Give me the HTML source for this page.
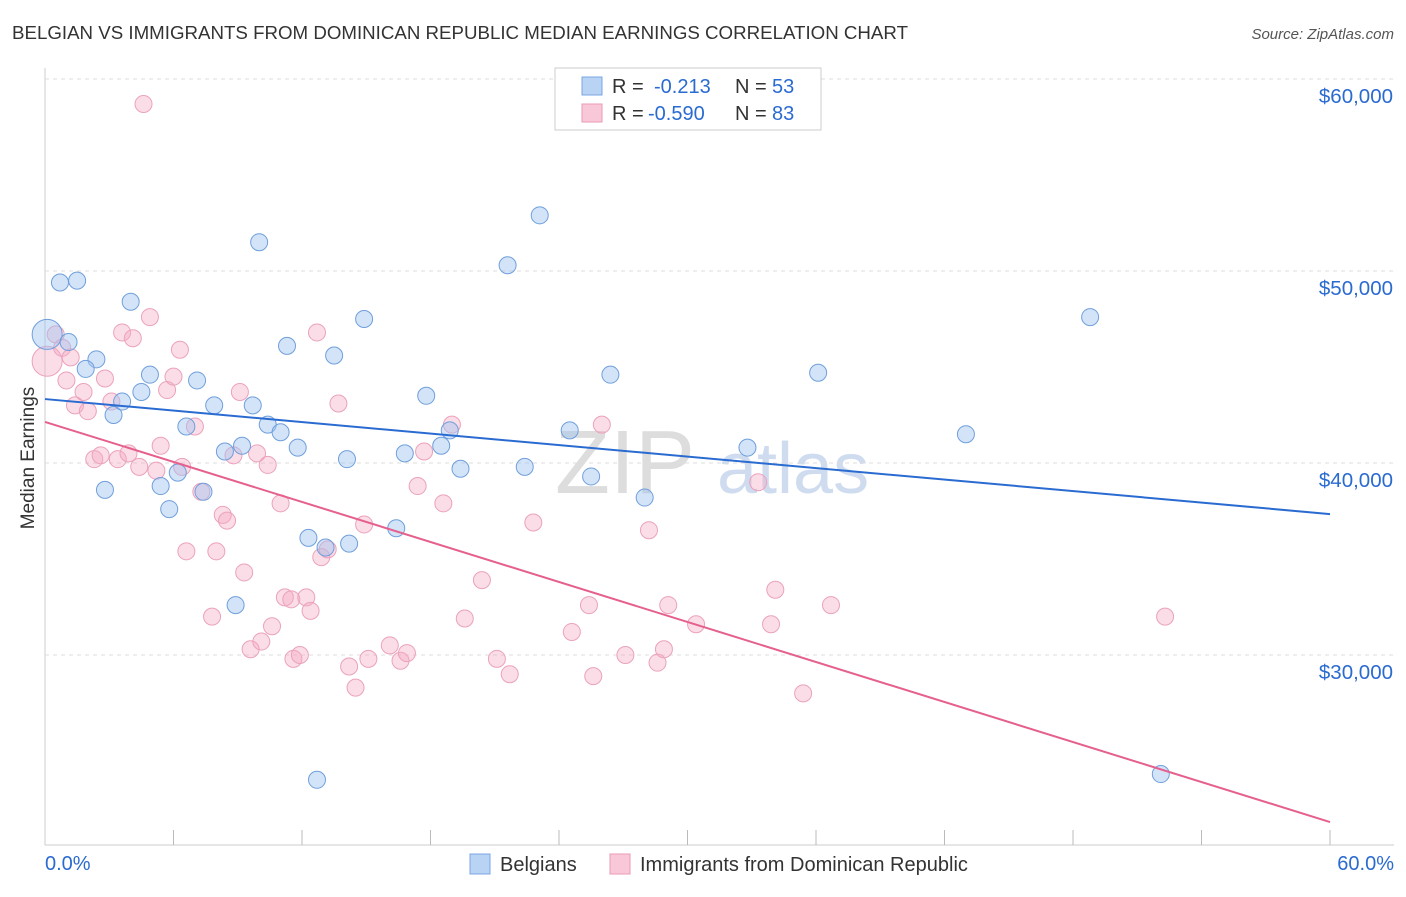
<!DOCTYPE html>
<html><head><meta charset="utf-8"><style>
body{margin:0;background:#fff;font-family:"Liberation Sans",sans-serif}
svg text{font-family:"Liberation Sans",sans-serif}
</style></head><body>
<svg id="chart" width="1406" height="892">
<text x="12" y="39" font-size="18" fill="#333" textLength="896" lengthAdjust="spacingAndGlyphs">BELGIAN VS IMMIGRANTS FROM DOMINICAN REPUBLIC MEDIAN EARNINGS CORRELATION CHART</text>
<text x="1394" y="39" font-size="15" fill="#555" font-style="italic" text-anchor="end">Source: ZipAtlas.com</text>
<text x="34" y="458" font-size="19" fill="#333" text-anchor="middle" transform="rotate(-90 34 458)">Median Earnings</text>
<text x="555" y="493" font-size="90" fill="#ddd" font-family="Liberation Serif">ZIP</text>
<text x="717" y="493" font-size="72" fill="#cfdcef">atlas</text>
<g id="grid"></g><g id="lines"></g><g id="pts"></g>
<g>
<rect x="555" y="68" width="266" height="62" fill="#fff" stroke="#ccc"/>
<rect x="582" y="77" width="20" height="18" fill="#b9d3f5" stroke="#7aa6e0"/>
<rect x="582" y="104" width="20" height="18" fill="#f9c8d8" stroke="#eb9ab5"/>
<text y="93" font-size="20" fill="#333"><tspan x="612">R =</tspan><tspan x="654" fill="#2a6bd1">-0.213</tspan><tspan x="735">N =</tspan><tspan x="772" fill="#2a6bd1">53</tspan></text>
<text y="120" font-size="20" fill="#333"><tspan x="612">R =</tspan><tspan x="648" fill="#2a6bd1">-0.590</tspan><tspan x="735">N =</tspan><tspan x="772" fill="#2a6bd1">83</tspan></text>
</g>
<g>
<rect x="470" y="854" width="20" height="20" fill="#b9d3f5" stroke="#7aa6e0"/>
<text x="500" y="871" font-size="20" fill="#333">Belgians</text>
<rect x="610" y="854" width="20" height="20" fill="#f9c8d8" stroke="#eb9ab5"/>
<text x="640" y="871" font-size="20" fill="#333">Immigrants from Dominican Republic</text>
</g>
<text x="45" y="870" font-size="20" fill="#2a6bd1">0.0%</text>
<text x="1394" y="870" font-size="20" fill="#2a6bd1" text-anchor="end">60.0%</text>
</svg>
<script>
const yTicks=[30000,40000,50000,60000];
const yTickLabels=["$30,000","$40,000","$50,000","$60,000"];
const blueX=[0.1,0.7,1.5,1.1,2.4,1.9,4.0,3.2,3.6,2.8,4.5,4.9,5.4,5.8,6.2,6.6,7.1,7.4,7.9,8.4,8.9,9.2,9.7,10.0,10.4,11.0,11.3,11.8,12.3,12.7,13.1,13.5,14.1,14.2,14.9,16.4,16.8,17.8,18.5,18.9,19.4,21.6,22.4,23.1,24.5,25.5,26.4,28.0,32.8,36.1,43.0,48.8,52.1];
const blueY=[46700,49400,49500,46300,45400,44900,48400,42500,43200,38600,43700,44600,38800,37600,39500,41900,44300,38500,43000,40600,32600,40900,43000,51500,42000,41600,46100,40800,36100,23500,35600,45600,40200,35800,47500,36600,40500,43500,40900,41700,39700,50300,39800,52900,41700,39300,44600,38200,40800,44700,41500,47600,23800];
const pinkX=[0.1,0.5,0.8,1.0,1.2,1.4,1.8,2.0,2.3,2.6,2.8,3.1,3.4,3.6,3.9,4.1,4.4,4.6,4.9,5.2,5.4,5.7,6.0,6.3,6.4,6.6,7.0,7.3,7.8,8.0,8.3,8.5,8.8,9.1,9.3,9.6,9.9,10.1,10.4,10.6,11.0,11.2,11.5,11.6,11.9,12.2,12.4,12.7,12.9,13.2,13.7,14.2,14.5,14.9,15.1,16.1,16.6,16.9,17.4,17.7,18.6,19.0,19.6,20.4,21.1,21.7,22.8,24.6,25.4,25.6,26.0,27.1,28.2,28.6,28.9,29.1,30.4,33.3,33.9,34.1,35.4,36.7,52.3];
const pinkY=[45300,46700,46000,44300,45500,43000,43700,42700,40200,40400,44400,43200,40200,46800,40500,46500,39800,58700,47600,39600,40900,43800,44500,45900,39800,35400,41900,38500,32000,35400,37300,37000,40400,43700,34300,30300,40500,30700,39900,31500,37900,33000,32900,29800,30000,33000,32300,46800,35100,35500,43100,29400,28300,36800,29800,30500,29700,30100,38800,40600,37900,42000,31900,33900,29800,29000,36900,31200,32600,28900,42000,30000,36500,29600,30300,32600,31600,39000,31600,33400,28000,32600,32000];
const blueTrend=[43330,37340];
const pinkTrend=[42140,21300];
const xs=v=>45+v/60*1285, ys=v=>463-(v-40000)*0.0192;
const NS="http://www.w3.org/2000/svg";
function mk(t,a,p){const e=document.createElementNS(NS,t);for(const k in a)e.setAttribute(k,a[k]);p.appendChild(e);return e;}
const grid=document.getElementById('grid');
let ax=mk('line',{x1:45,y1:68,x2:45,y2:845,stroke:'#ccc'},grid);


let bx=mk('line',{x1:45,y1:845,x2:1394,y2:845,stroke:'#ccc'},grid);


for(let i=1;i<=10;i++){const x=xs(i*6);const t=mk('line',{x1:x,y1:830,x2:x,y2:845,stroke:'#bbb'},grid);

}
yTicks.forEach((v,i)=>{const y=ys(v);const g=mk('line',{x1:45,y1:y,x2:1394,y2:y,stroke:'#ddd','stroke-dasharray':'4 4'},grid);


const t=mk('text',{x:1393,y:y+24,'font-size':20.5,fill:'#2a6bd1','text-anchor':'end'},grid);t.textContent=yTickLabels[i];

});
const pts=document.getElementById('pts');
pinkX.forEach((v,i)=>{const c=mk('circle',{cx:xs(v),cy:ys(pinkY[i]),r:i==0?15:8.5,fill:'rgba(244,170,196,0.4)',stroke:'#eba2bd','stroke-width':1},pts);

});
blueX.forEach((v,i)=>{const c=mk('circle',{cx:xs(v),cy:ys(blueY[i]),r:i==0?15:8.5,fill:'rgba(160,195,240,0.45)',stroke:'#6f9fdc','stroke-width':1},pts);

});
const lines=document.getElementById('lines');
const bl=mk('line',{x1:xs(0),y1:ys(blueTrend[0]),x2:xs(60),y2:ys(blueTrend[1]),stroke:'#2a6bd1','stroke-width':2},lines);


const pl=mk('line',{x1:xs(0),y1:ys(pinkTrend[0]),x2:xs(60),y2:ys(pinkTrend[1]),stroke:'#e5608d','stroke-width':2},lines);


document.getElementById('chart').appendChild(lines);
</script>
</body></html>
